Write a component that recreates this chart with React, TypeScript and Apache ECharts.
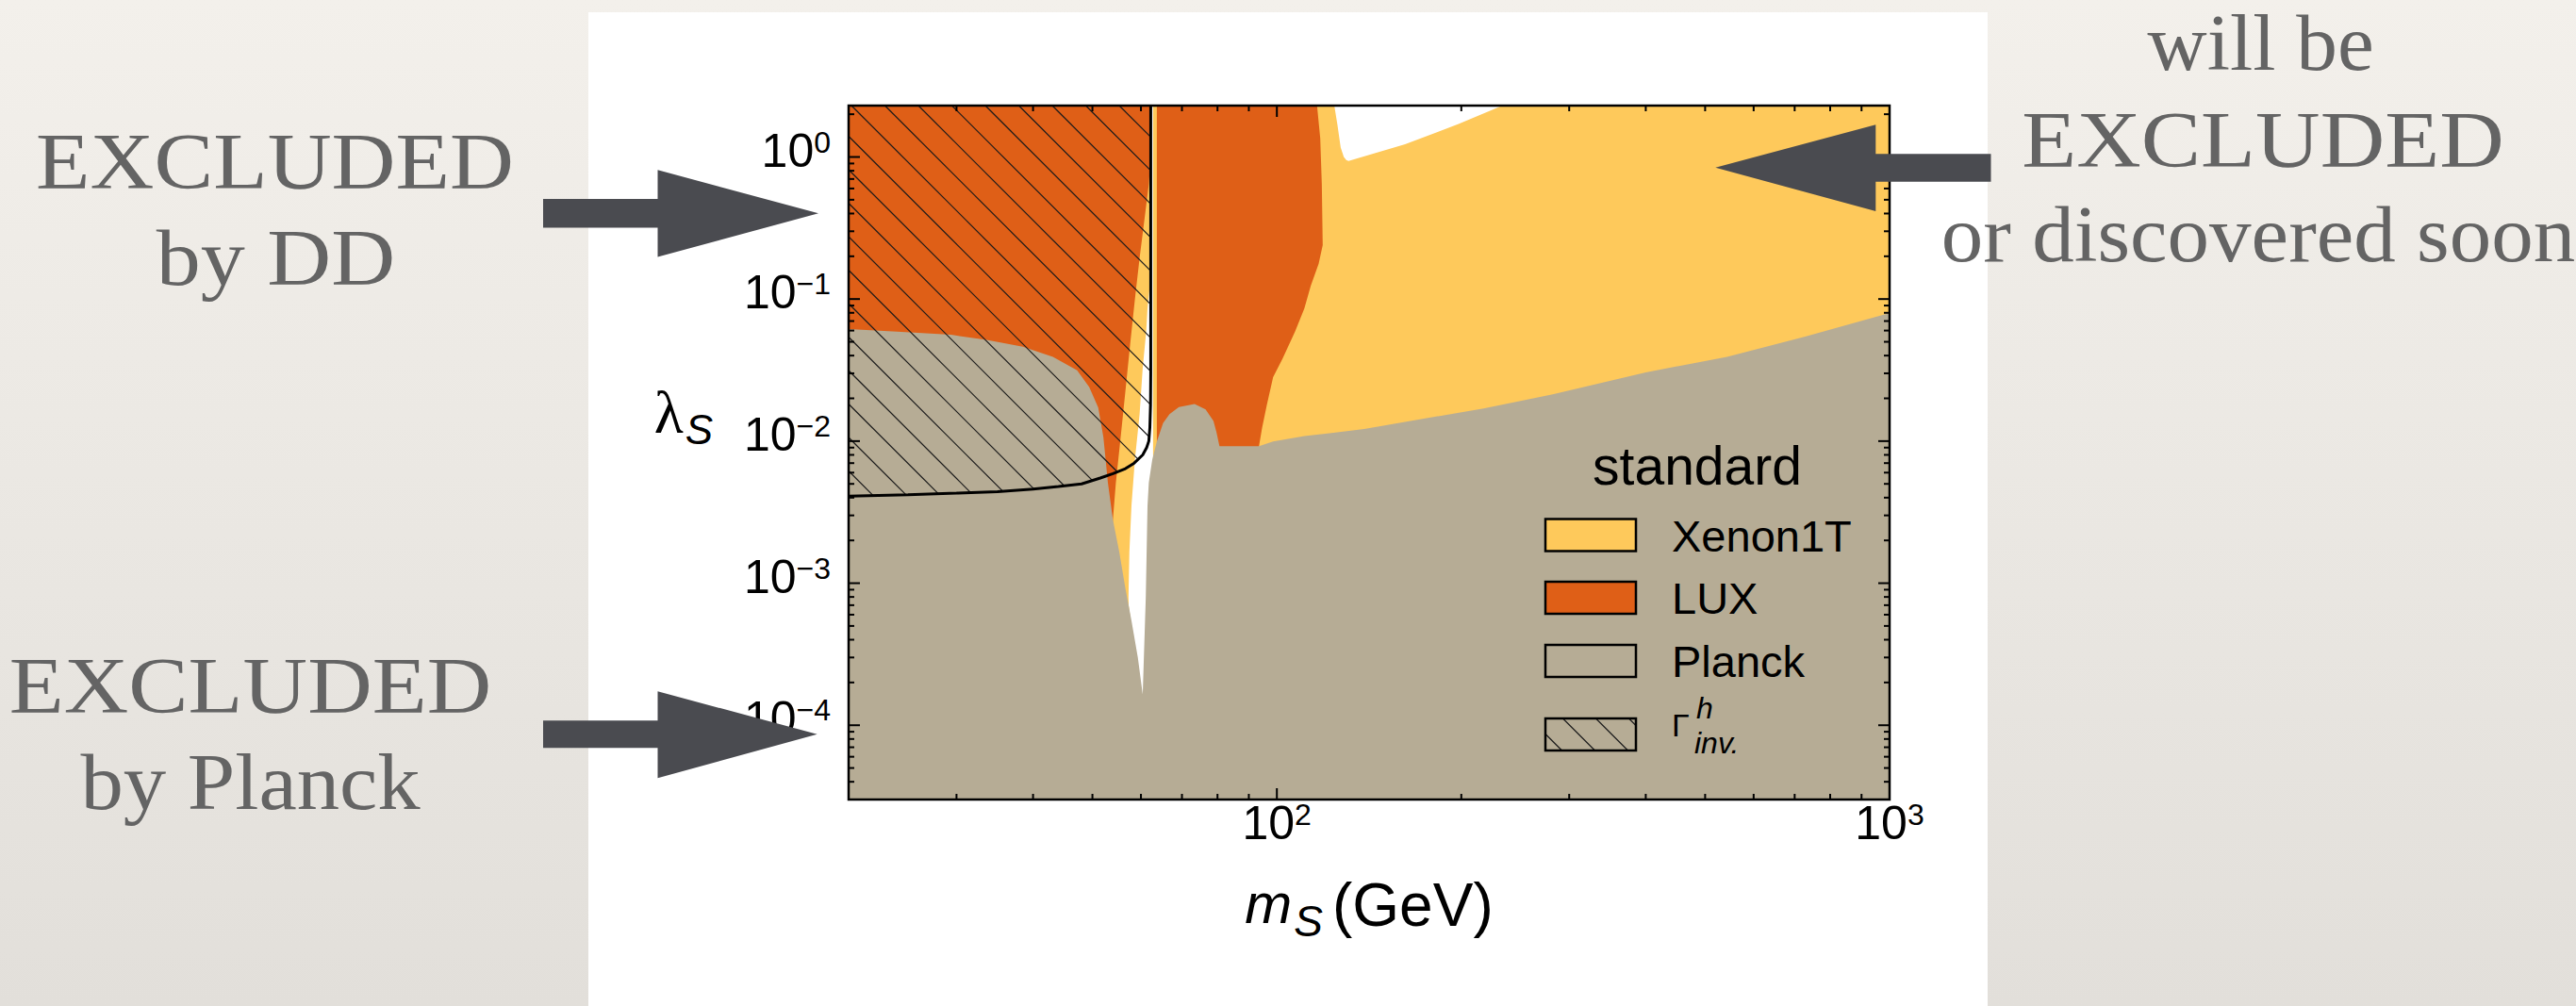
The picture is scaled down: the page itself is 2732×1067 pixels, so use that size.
import React, { useEffect, useRef } from "react";
import * as echarts from "echarts";

// ---------- axis ranges & ticks ----------
const M_RANGE = [20, 1000];
const LAMBDA_RANGE = [3e-5, 2.3];

const X_MAJOR_TICKS = [100, 1000];
const X_MINOR_TICKS = [30, 40, 50, 60, 70, 80, 90, 200, 300, 400, 500, 600, 700, 800, 900];
const Y_MAJOR_TICKS = [1e-4, 1e-3, 1e-2, 1e-1, 1];
const Y_MINOR_TICKS = [
  4e-5, 5e-5, 6e-5, 7e-5, 8e-5, 9e-5,
  2e-4, 3e-4, 4e-4, 5e-4, 6e-4, 7e-4, 8e-4, 9e-4,
  0.002, 0.003, 0.004, 0.005, 0.006, 0.007, 0.008, 0.009,
  0.02, 0.03, 0.04, 0.05, 0.06, 0.07, 0.08, 0.09,
  0.2, 0.3, 0.4, 0.5, 0.6, 0.7, 0.8, 0.9, 2,
];

// ---------- regions (m_S in GeV, lambda_S) ----------
// Planck: everything below this edge is excluded
const PLANCK_EDGE = [
  [20, 0.0616], [24, 0.059], [29.4, 0.056], [33.6, 0.0515], [38.5, 0.0462], [43.1, 0.0392],
  [47.2, 0.0315], [49.4, 0.024], [51.1, 0.0172], [52.1, 0.0107], [53.0, 0.00508], [54.0, 0.0028],
  [55.3, 0.00166], [56.6, 0.000916], [57.9, 0.000545], [59.3, 0.0003], [60.4, 0.000165],
  [61.1, 0.00079], [61.5, 0.0035], [61.8, 0.0051], [62.6, 0.00737], [63.7, 0.00993],
  [65.2, 0.01337], [66.8, 0.0155], [69.2, 0.01734], [73.4, 0.01827], [76.5, 0.0167],
  [78.8, 0.01387], [79.7, 0.01153], [80.6, 0.00922], [93.5, 0.00922], [98.6, 0.00993],
  [110.9, 0.01086], [121.9, 0.01135], [138.9, 0.01218], [217.5, 0.01698], [282, 0.02134],
  [400, 0.0305], [543, 0.0392], [728.3, 0.0544], [1000, 0.0797],
];
// LUX, light-mass side
const LUX_LEFT = [
  [20, 2.3], [62.25, 2.3], [62.25, 1.0], [61.8, 0.642], [60.75, 0.3535], [59.7, 0.195],
  [58.65, 0.0997], [57.6, 0.0474], [56.6, 0.0225], [55.6, 0.0107], [54.6, 0.00508],
  [54.0, 0.0028], [53.6, 0.0015], [20, 0.0015],
];
// LUX, above the resonance
const LUX_RIGHT = [
  [63.7, 2.3], [116.3, 2.3], [117.7, 1.35], [118.4, 0.642], [118.8, 0.24], [117.0, 0.177],
  [113.6, 0.124], [110.9, 0.0862], [107.1, 0.0593], [102.1, 0.0379], [98.6, 0.0282],
  [96.3, 0.018], [94.6, 0.0124], [93.5, 0.00922], [93, 0.005], [63.7, 0.005],
];
// allowed (white) region at the Higgs resonance
const OPEN_RESONANCE = [
  [62.25, 2.3], [62.8, 2.3], [62.8, 1e-4], [60.4, 1e-4], [58.8, 0.0003], [57.3, 0.0007],
  [57.25, 0.00079], [57.45, 0.00166], [57.9, 0.0035], [58.65, 0.00737], [59.7, 0.0155],
  [60.4, 0.0327], [61.2, 0.0593], [61.5, 0.086], [62.0, 0.12], [62.25, 0.2],
];
// allowed (white) region at large coupling
const OPEN_TOP = [
  [124.1, 2.3], [125.6, 1.666], [127.1, 1.165], [128.6, 1.0], [129.8, 0.95], [130.9, 0.936],
  [161.9, 1.227], [197.9, 1.708], [228, 2.204], [233.4, 2.3],
];
// invisible Higgs width bound (hatched above the curve)
const GAMMA_EDGE = [
  [20, 0.0041], [25, 0.0042], [30, 0.0043], [35, 0.0044], [40, 0.0046], [44, 0.0048],
  [48, 0.005], [51.5, 0.0055], [54, 0.0059], [56.6, 0.0064], [58.5, 0.007], [60.4, 0.008],
  [61.3, 0.009], [61.8, 0.01], [62.05, 0.0125], [62.2, 0.018], [62.25, 0.03], [62.25, 2.3],
];

const YELLOW = "#fec95b";
const ORANGE = "#df5f17";
const TAN = "#b6ac95";
const INK = "#000";
const NOTE = "#646464";
const ARROW = "#4a4b50";
const SANS = "Liberation Sans, Arial, Helvetica, sans-serif";
const SERIF = "Liberation Serif, Times New Roman, serif";

function hatchSegments(poly: number[][], c0: number, step: number) {
  let lo = Infinity, hi = -Infinity;
  for (const [x, y] of poly) {
    lo = Math.min(lo, y - x);
    hi = Math.max(hi, y - x);
  }
  const segs: number[][] = [];
  for (let k = Math.ceil((lo - c0) / step); k <= Math.floor((hi - c0) / step); k++) {
    const c = c0 + k * step;
    const xs: number[] = [];
    for (let i = 0; i < poly.length; i++) {
      const p = poly[i], q = poly[(i + 1) % poly.length];
      const fp = p[1] - p[0] - c, fq = q[1] - q[0] - c;
      if ((fp > 0) !== (fq > 0)) {
        const t = fp / (fp - fq);
        xs.push(p[0] + t * (q[0] - p[0]));
      }
    }
    xs.sort((a, b) => a - b);
    for (let j = 0; j + 1 < xs.length; j += 2) segs.push([xs[j], xs[j] + c, xs[j + 1], xs[j + 1] + c]);
  }
  return segs;
}

function areaSeries(name: string, pts: number[][], fill: string, z: number) {
  return {
    type: "custom",
    name,
    z,
    silent: true,
    data: pts,
    renderItem: (params: any, api: any) => {
      if (params.dataIndex !== 0) return null;
      return {
        type: "polygon",
        shape: { points: pts.map((p) => api.coord(p)) },
        style: { fill, stroke: "none" },
      };
    },
  };
}

function noteText(text: string, cx: number, baseline: number, scaleX: number) {
  const size = 84;
  return {
    type: "text",
    z: 50,
    x: cx,
    y: baseline - 0.34 * size,
    scaleX,
    style: {
      text,
      fill: NOTE,
      fontFamily: SERIF,
      fontSize: size,
      textAlign: "center",
      verticalAlign: "middle",
      textVerticalAlign: "middle",
    },
  };
}

function plainText(text: string, x: number, baseline: number, size: number, align = "left", italic = false) {
  return {
    type: "text",
    z: 60,
    x,
    y: baseline - 0.347 * size,
    style: {
      text,
      fill: INK,
      fontFamily: SANS,
      fontSize: size,
      fontStyle: italic ? "italic" : "normal",
      textAlign: align,
      verticalAlign: "middle",
      textVerticalAlign: "middle",
    },
  };
}

function arrow(points: number[][]) {
  return { type: "polygon", z: 55, shape: { points }, style: { fill: ARROW } };
}

function buildLegend() {
  const x0 = 1639, w = 96, h = 34;
  const items = [
    { label: "Xenon1T", fill: YELLOW, top: 550.5 },
    { label: "LUX", fill: ORANGE, top: 617 },
    { label: "Planck", fill: TAN, top: 684 },
  ];
  const els: any[] = [plainText("standard", 1800, 514, 57, "center")];
  for (const it of items) {
    els.push({ type: "rect", z: 60, shape: { x: x0, y: it.top, width: w, height: h }, style: { fill: it.fill, stroke: INK, lineWidth: 2.5 } });
    els.push(plainText(it.label, 1773, it.top + h, 47));
  }
  const gTop = 762;
  els.push({ type: "rect", z: 60, shape: { x: x0, y: gTop, width: w, height: h }, style: { fill: TAN, stroke: "none" } });
  const box = [[x0, gTop], [x0 + w, gTop], [x0 + w, gTop + h], [x0, gTop + h]];
  for (const s of hatchSegments(box, gTop - 1657.5, 35)) {
    els.push({ type: "line", z: 61, shape: { x1: s[0], y1: s[1], x2: s[2], y2: s[3] }, style: { stroke: "#1a1a1a", lineWidth: 1.2 } });
  }
  els.push({ type: "rect", z: 62, shape: { x: x0, y: gTop, width: w, height: h }, style: { fill: "none", stroke: INK, lineWidth: 2.5 } });
  els.push(plainText("Γ", 1773, 781, 34));
  els.push(plainText("h", 1799, 762.5, 32, "left", true));
  els.push(plainText("inv.", 1797, 799.5, 32, "left", true));
  return els;
}

function powLabel(v: number) {
  const e = Math.round(Math.log10(v));
  if (Math.abs(Math.log10(v) - e) > 1e-6) return "";
  return "{b|10}{s|" + (e < 0 ? "\u2212" + -e : String(e)) + "}";
}

const labelRich = {
  b: { fontFamily: SANS, fontSize: 50, lineHeight: 50, color: INK, verticalAlign: "bottom", padding: [8, 0, 0, 0] },
  s: { fontFamily: SANS, fontSize: 32, lineHeight: 32, color: INK, verticalAlign: "top" },
};

export default function App() {
  const ref = useRef<HTMLDivElement>(null);
  useEffect(() => {
    document.body.style.margin = "0";
    const chart = echarts.init(ref.current!, null, { renderer: "svg", width: 2732, height: 1067 });

    const hatchRegion = [[M_RANGE[0], LAMBDA_RANGE[1]], ...GAMMA_EDGE];
    const planckRegion = [[M_RANGE[0], LAMBDA_RANGE[0]], ...PLANCK_EDGE, [M_RANGE[1], LAMBDA_RANGE[0]]];
    const fullRegion = [
      [M_RANGE[0], LAMBDA_RANGE[0]], [M_RANGE[1], LAMBDA_RANGE[0]],
      [M_RANGE[1], LAMBDA_RANGE[1]], [M_RANGE[0], LAMBDA_RANGE[1]],
    ];

    const option: any = {
      animation: false,
      backgroundColor: "transparent",
      grid: { left: 900, top: 112, width: 1104, height: 736, containLabel: false },
      xAxis: {
        type: "log",
        logBase: 10,
        min: M_RANGE[0],
        max: M_RANGE[1],
        splitLine: { show: false },
        axisLine: { show: false },
        axisTick: { show: false },
        axisLabel: { margin: 0, formatter: powLabel, rich: labelRich, showMinLabel: true, showMaxLabel: true },
        name: "{m|m}{s|S}{g|(GeV)}",
        nameLocation: "middle",
        nameGap: 80,
        nameTextStyle: {
          rich: {
            m: { fontFamily: SANS, fontStyle: "italic", fontSize: 60, lineHeight: 64, verticalAlign: "top", color: INK },
            s: { fontFamily: SANS, fontStyle: "italic", fontSize: 46, lineHeight: 46, padding: [26, 0, 0, 2], verticalAlign: "top", color: INK },
            g: { fontFamily: SANS, fontSize: 64, lineHeight: 64, padding: [0, 0, 0, 10], verticalAlign: "top", color: INK },
          },
        },
      },
      yAxis: {
        type: "log",
        logBase: 10,
        min: LAMBDA_RANGE[0],
        max: LAMBDA_RANGE[1],
        splitLine: { show: false },
        axisLine: { show: false },
        axisTick: { show: false },
        axisLabel: { margin: 19, padding: [0, 0, 14, 0], formatter: powLabel, rich: labelRich },
        name: "{l|λ}{s|S}",
        nameLocation: "middle",
        nameRotate: 0,
        nameGap: 144,
        nameTextStyle: {
          padding: [0, 0, 86, 0],
          rich: {
            l: { fontFamily: SERIF, fontSize: 64, lineHeight: 64, verticalAlign: "top", color: INK },
            s: { fontFamily: SANS, fontStyle: "italic", fontSize: 44, lineHeight: 44, padding: [28, 0, 0, 2], verticalAlign: "top", color: INK },
          },
        },
      },
      series: [
        areaSeries("Xenon1T", fullRegion, YELLOW, 2),
        areaSeries("allowed (large coupling)", OPEN_TOP, "#ffffff", 3),
        areaSeries("allowed (resonance)", OPEN_RESONANCE, "#ffffff", 4),
        areaSeries("LUX", LUX_LEFT, ORANGE, 5),
        areaSeries("LUX ", LUX_RIGHT, ORANGE, 6),
        areaSeries("Planck", planckRegion, TAN, 7),
        {
          type: "custom",
          name: "Γ inv hatch",
          z: 8,
          silent: true,
          data: hatchRegion,
          renderItem: (params: any, api: any) => {
            if (params.dataIndex !== 0) return null;
            const poly = hatchRegion.map((p) => api.coord(p));
            const tl = api.coord([M_RANGE[0], LAMBDA_RANGE[1]]);
            const segs = hatchSegments(poly, tl[1] - tl[0] - 3, 35.5);
            return {
              type: "group",
              children: segs.map((s) => ({
                type: "line",
                shape: { x1: s[0], y1: s[1], x2: s[2], y2: s[3] },
                style: { stroke: "#1a1a1a", lineWidth: 1.2 },
              })),
            };
          },
        },
        {
          type: "line",
          name: "Γ inv bound",
          z: 9,
          silent: true,
          data: GAMMA_EDGE,
          symbol: "none",
          showSymbol: false,
          lineStyle: { color: INK, width: 3 },
        },
        {
          type: "custom",
          name: "frame",
          z: 10,
          silent: true,
          data: [[M_RANGE[0], LAMBDA_RANGE[0]]],
          renderItem: (params: any, api: any) => {
            const bl = api.coord([M_RANGE[0], LAMBDA_RANGE[0]]);
            const tr = api.coord([M_RANGE[1], LAMBDA_RANGE[1]]);
            const st = { stroke: INK, lineWidth: 2 };
            const ch: any[] = [];
            const xt = (v: number, len: number) => {
              const x = api.coord([v, LAMBDA_RANGE[0]])[0];
              ch.push({ type: "line", shape: { x1: x, y1: bl[1], x2: x, y2: bl[1] - len }, style: st });
              ch.push({ type: "line", shape: { x1: x, y1: tr[1], x2: x, y2: tr[1] + len }, style: st });
            };
            const yt = (v: number, len: number) => {
              const y = api.coord([M_RANGE[0], v])[1];
              ch.push({ type: "line", shape: { x1: bl[0], y1: y, x2: bl[0] + len, y2: y }, style: st });
              ch.push({ type: "line", shape: { x1: tr[0], y1: y, x2: tr[0] - len, y2: y }, style: st });
            };
            X_MAJOR_TICKS.forEach((v) => xt(v, 12));
            X_MINOR_TICKS.forEach((v) => xt(v, 6));
            Y_MAJOR_TICKS.forEach((v) => yt(v, 12));
            Y_MINOR_TICKS.forEach((v) => yt(v, 6));
            ch.push({
              type: "rect",
              shape: { x: bl[0], y: tr[1], width: tr[0] - bl[0], height: bl[1] - tr[1] },
              style: { fill: "none", stroke: INK, lineWidth: 2.5 },
            });
            return { type: "group", children: ch };
          },
        },
      ],
      graphic: [
        { type: "rect", z: -5, shape: { x: 624, y: 13, width: 1484, height: 1060 }, style: { fill: "#ffffff" } },
        noteText("EXCLUDED", 291.5, 200, 1.12),
        noteText("by DD", 292.5, 302, 1.12),
        noteText("EXCLUDED", 265.5, 756, 1.13),
        noteText("by Planck", 265.5, 858, 1.08),
        noteText("will be", 2397.7, 75, 1.04),
        noteText("EXCLUDED", 2400, 177, 1.13),
        noteText("or discovered soon", 2395, 277, 1.06),
        arrow([[576, 211], [697.5, 211], [697.5, 180.3], [868, 226.3], [697.5, 272.6], [697.5, 241.5], [576, 241.5]]),
        arrow([[576, 764.2], [697.5, 764.2], [697.5, 733.3], [866.7, 778.7], [697.5, 825.3], [697.5, 793.3], [576, 793.3]]),
        arrow([[2111.5, 163.2], [1989.3, 163.2], [1989.3, 132.2], [1819.3, 177.8], [1989.3, 224], [1989.3, 192.8], [2111.5, 192.8]]),
        ...buildLegend(),
      ],
    };
    chart.setOption(option);
    return () => chart.dispose();
  }, []);
  return (
    <div
      ref={ref}
      style={{ width: 2732, height: 1067, background: "linear-gradient(180deg, #f3f0eb 0%, #e2dfda 100%)" }}
    />
  );
}
